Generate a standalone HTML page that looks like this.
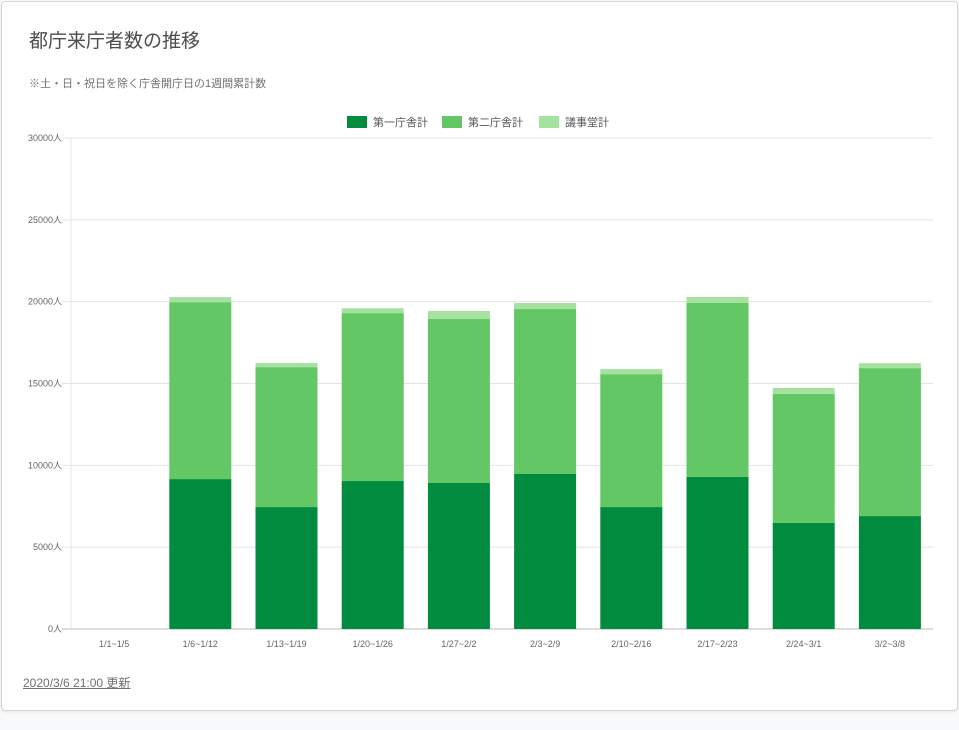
<!DOCTYPE html>
<html><head><meta charset="utf-8">
<style>
body{margin:0;background:#f8f9fa;font-family:"Liberation Sans","Noto Sans CJK JP",sans-serif;}
#card{position:absolute;left:1px;top:1px;width:955px;height:708px;background:#fff;border:1px solid #d6d6d6;border-radius:4px;box-shadow:0 1px 2px rgba(0,0,0,.08);}
#title{position:absolute;left:27px;top:24px;font-size:19px;color:#4d4d4d;}
#sub{position:absolute;left:27px;top:73px;font-size:11px;color:#707070;}
#upd{position:absolute;left:21px;top:672px;font-size:12px;color:#707070;text-decoration:underline;}
svg{position:absolute;left:0;top:0;}
</style></head><body>
<div id="card">
<div id="title">都庁来庁者数の推移</div>
<div id="sub">※土・日・祝日を除く庁舎開庁日の1週間累計数</div>
<div id="upd">2020/3/6 21:00 更新</div>
</div>
<svg id="chart" width="959" height="730"></svg>
<script>
const categories=["1/1~1/5","1/6~1/12","1/13~1/19","1/20~1/26","1/27~2/2","2/3~2/9","2/10~2/16","2/17~2/23","2/24~3/1","3/2~3/8"];
const seriesNames=["第一庁舎計","第二庁舎計","議事堂計"];
const first=[0,9160,7450,9040,8920,9470,7450,9290,6480,6900];
const second=[0,10810,8550,10260,10020,10080,8120,10630,7880,9040];
const assembly=[0,310,250,300,490,370,310,370,370,300];
const yTicks=[0,5000,10000,15000,20000,25000,30000];
const colors=["#008b3f","#63c765","#a6e29f"];
const svg=document.getElementById('chart');
const NS="http://www.w3.org/2000/svg";
const X0=71,X1=933,Y0=629,Y1=138,YMAX=30000;
const y=v=>Y0-(v/YMAX)*(Y0-Y1);
const slot=(X1-X0)/categories.length;
const xc=i=>X0+slot*(i+0.5);
const BW=62;
function mk(t,a){const e=document.createElementNS(NS,t);for(const k in a)e.setAttribute(k,a[k]);svg.appendChild(e);return e;}
yTicks.forEach(t=>{
 const l=mk('line',{x1:62,x2:X1,y1:y(t),y2:y(t),stroke:t===0?'#bbb':'#e4e4e4','stroke-width':1});
 
 
 const tx=mk('text',{x:62,y:y(t)+3,'text-anchor':'end','font-size':9,fill:'#666'});
 tx.textContent=t+'人';
 
 
});
const ax=mk('line',{x1:X0,x2:X0,y1:Y1,y2:Y0,stroke:'#e4e4e4'});


const series=[first,second,assembly];
categories.forEach((c,i)=>{
 let base=0;
 series.forEach((s,k)=>{
  const v=s[i];
  if(v>0){
   const r=mk('rect',{x:xc(i)-BW/2,y:y(base+v),width:BW,height:y(base)-y(base+v),fill:colors[k]});
   
   
  }
  base+=v;
 });
 const tx=mk('text',{x:xc(i),y:647,'text-anchor':'middle','font-size':9,fill:'#666'});
 tx.textContent=c;
 
 
});
const lx=[347,442,539];
seriesNames.forEach((n,k)=>{
 const r=mk('rect',{x:lx[k],y:116,width:20,height:12,fill:colors[k]});
 
 
 const t=mk('text',{x:lx[k]+26,y:126,'font-size':11,fill:'#555'});
 t.textContent=n;
 
 
});
</script>
</body></html>
